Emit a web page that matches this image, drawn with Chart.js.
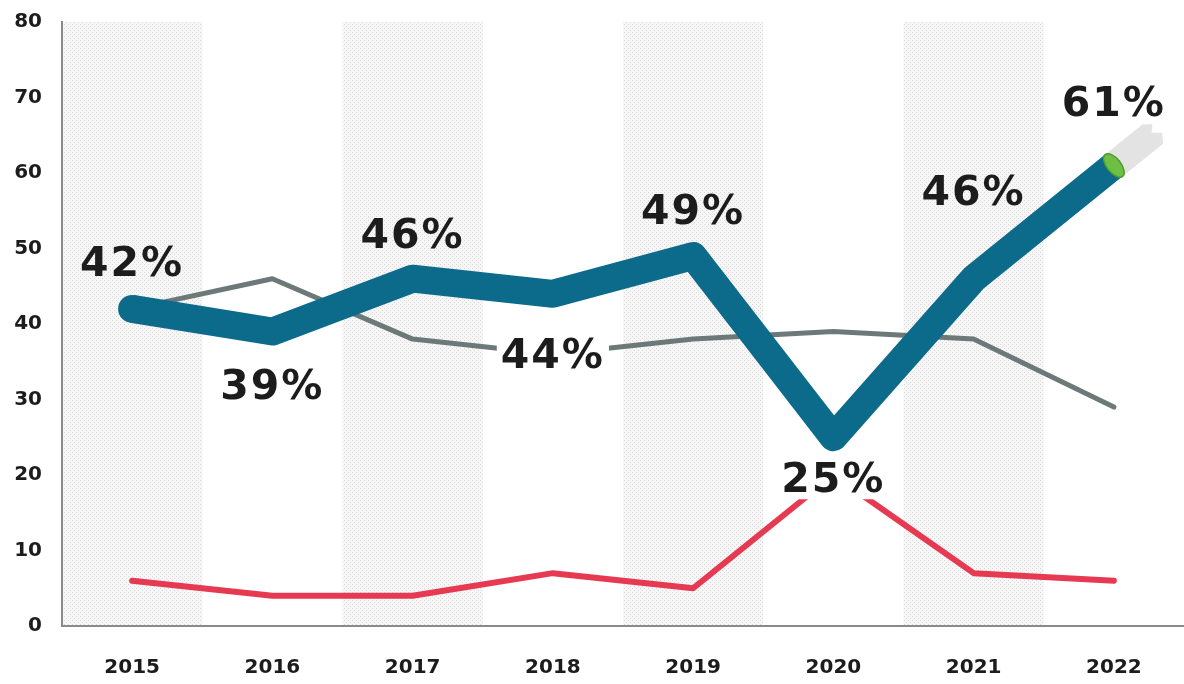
<!DOCTYPE html>
<html>
<head>
<meta charset="utf-8">
<script src="https://cdn.jsdelivr.net/npm/chart.js@4/dist/chart.umd.min.js"></script>
<style>
  html, body { margin: 0; padding: 0; background: #ffffff; }
  #wrap { width: 1184px; height: 684px; position: relative; }
</style>
</head>
<body>
<div id="wrap"><canvas id="chart" width="1184" height="684"></canvas></div>
<script>
// Yearly shares (%)
const years = ['2015', '2016', '2017', '2018', '2019', '2020', '2021', '2022'];
const mainShare = [42, 39, 46, 44, 49, 25, 46, 61];
const secondShare = [42, 46, 38, 36, 38, 39, 38, 29];
const thirdShare = [6, 4, 4, 7, 5, 20, 7, 6];
const yTickValues = [0, 10, 20, 30, 40, 50, 60, 70, 80];

const BLUE = '#0c6a8b';
const GREY = '#6d7878';
const RED = '#e63a53';
const INK = '#1c1c1c';
const AXIS = '#8a8a8a';
const FONT = '"DejaVu Sans", "Liberation Sans", sans-serif';

// Dotted halftone fill for the alternating year columns
function makeDotPattern(ctx) {
  const c = document.createElement('canvas');
  c.width = 4; c.height = 4;
  const g = c.getContext('2d');
  g.fillStyle = '#f6f6f6';
  g.fillRect(0, 0, 4, 4);
  g.fillStyle = '#d9d9d9';
  g.fillRect(0, 0, 1, 1);
  g.fillRect(2, 2, 1, 1);
  return ctx.createPattern(c, 'repeat');
}

const columnBands = {
  id: 'columnBands',
  beforeDraw(chart) {
    const { ctx, chartArea, scales } = chart;
    const xs = scales.x;
    const slot = (chartArea.right - chartArea.left) / years.length;
    ctx.save();
    ctx.fillStyle = makeDotPattern(ctx);
    years.forEach((y, i) => {
      if (i % 2 !== 0) return;
      const cx = xs.getPixelForValue(i);
      ctx.fillRect(cx - slot / 2, chartArea.top, slot, chartArea.bottom - chartArea.top);
    });
    ctx.restore();
  }
};

// Marker tip on the last point of the main line, then the value labels
const mainDecor = {
  id: 'mainDecor',
  afterDatasetsDraw(chart, args, opts) {
    const { ctx } = chart;
    const meta = chart.getDatasetMeta(0);
    const pts = meta.data;
    const a = pts[pts.length - 2], b = pts[pts.length - 1];
    const ang = Math.atan2(b.y - a.y, b.x - a.x);
    const half = 14;

    // pale tail beyond the tip
    ctx.save();
    ctx.translate(b.x, b.y);
    ctx.rotate(ang);
    ctx.fillStyle = 'rgba(220,220,220,0.8)';
    ctx.beginPath();
    ctx.moveTo(0, -half);
    ctx.lineTo(48, -half);
    ctx.lineTo(56, -half + 6);
    ctx.lineTo(50, -2);
    ctx.lineTo(58, 5);
    ctx.lineTo(52, half);
    ctx.lineTo(0, half);
    ctx.closePath();
    ctx.fill();
    // green cap
    ctx.beginPath();
    ctx.ellipse(0, 0, 7, half, 0, 0, Math.PI * 2);
    ctx.fillStyle = '#6dbf45';
    ctx.fill();
    ctx.lineWidth = 1.5;
    ctx.strokeStyle = '#4f9d2c';
    ctx.stroke();
    ctx.restore();

    // value labels
    const shifts = opts.shifts;
    ctx.save();
    ctx.font = 'bold 41px ' + FONT;
    try { ctx.letterSpacing = '2px'; } catch (e) {}
    ctx.textAlign = 'center';
    ctx.textBaseline = 'middle';
    mainShare.forEach((v, i) => {
      const p = pts[i];
      const txt = v + '%';
      const y = p.y - shifts[i];
      if (shifts[i] < 0) {
        const w = ctx.measureText(txt).width + 8;
        ctx.fillStyle = '#ffffff';
        ctx.fillRect(p.x - w / 2, y - 19, w, 38);
      }
      ctx.fillStyle = INK;
      ctx.fillText(txt, p.x, y + 1);
    });
    ctx.restore();
  }
};

const ctx = document.getElementById('chart').getContext('2d');
new Chart(ctx, {
  type: 'line',
  data: {
    labels: years,
    datasets: [
      {
        data: mainShare,
        order: 0,
        borderColor: BLUE,
        borderWidth: 28,
        borderCapStyle: 'butt',
        borderJoinStyle: 'round',
        tension: 0,
        pointRadius: years.map((y, i) => (i === 0 ? 14 : 0)),
        pointBackgroundColor: BLUE,
        pointBorderWidth: 0,
        fill: false,
        clip: false
      },
      {
        data: secondShare,
        order: 1,
        borderColor: GREY,
        borderWidth: 5,
        borderCapStyle: 'round',
        borderJoinStyle: 'round',
        tension: 0,
        pointRadius: 0,
        fill: false
      },
      {
        data: thirdShare,
        order: 2,
        borderColor: RED,
        borderWidth: 6,
        borderCapStyle: 'round',
        borderJoinStyle: 'round',
        tension: 0,
        pointRadius: 0,
        fill: false
      }
    ]
  },
  options: {
    responsive: false,
    animation: false,
    events: [],
    layout: { autoPadding: false, padding: { top: 22, right: 0, bottom: 0, left: 0 } },
    plugins: {
      legend: { display: false },
      tooltip: { enabled: false },
      mainDecor: { shifts: [45, -56, 42, -63, 44, -43, 85, 61] }
    },
    scales: {
      x: {
        offset: true,
        grid: { display: false, drawTicks: false },
        border: { display: true, color: AXIS, width: 2 },
        ticks: {
          color: INK,
          font: { family: FONT, size: 20, weight: 'bold' },
          padding: 30,
          maxRotation: 0
        },
        afterFit(s) {
          s.height = 58;
          s.paddingLeft = 0;
          s.paddingRight = 0;
        }
      },
      y: {
        min: 0,
        max: 80,
        grid: { display: false, drawTicks: false },
        border: { display: true, color: AXIS, width: 2 },
        afterBuildTicks(s) { s.ticks = yTickValues.map(v => ({ value: v })); },
        ticks: {
          color: INK,
          font: { family: FONT, size: 20, weight: 'bold' },
          padding: 20
        },
        afterFit(s) {
          s.width = 62;
          s.paddingTop = 0;
          s.paddingBottom = 0;
        }
      }
    }
  },
  plugins: [columnBands, mainDecor]
});
</script>
</body>
</html>
